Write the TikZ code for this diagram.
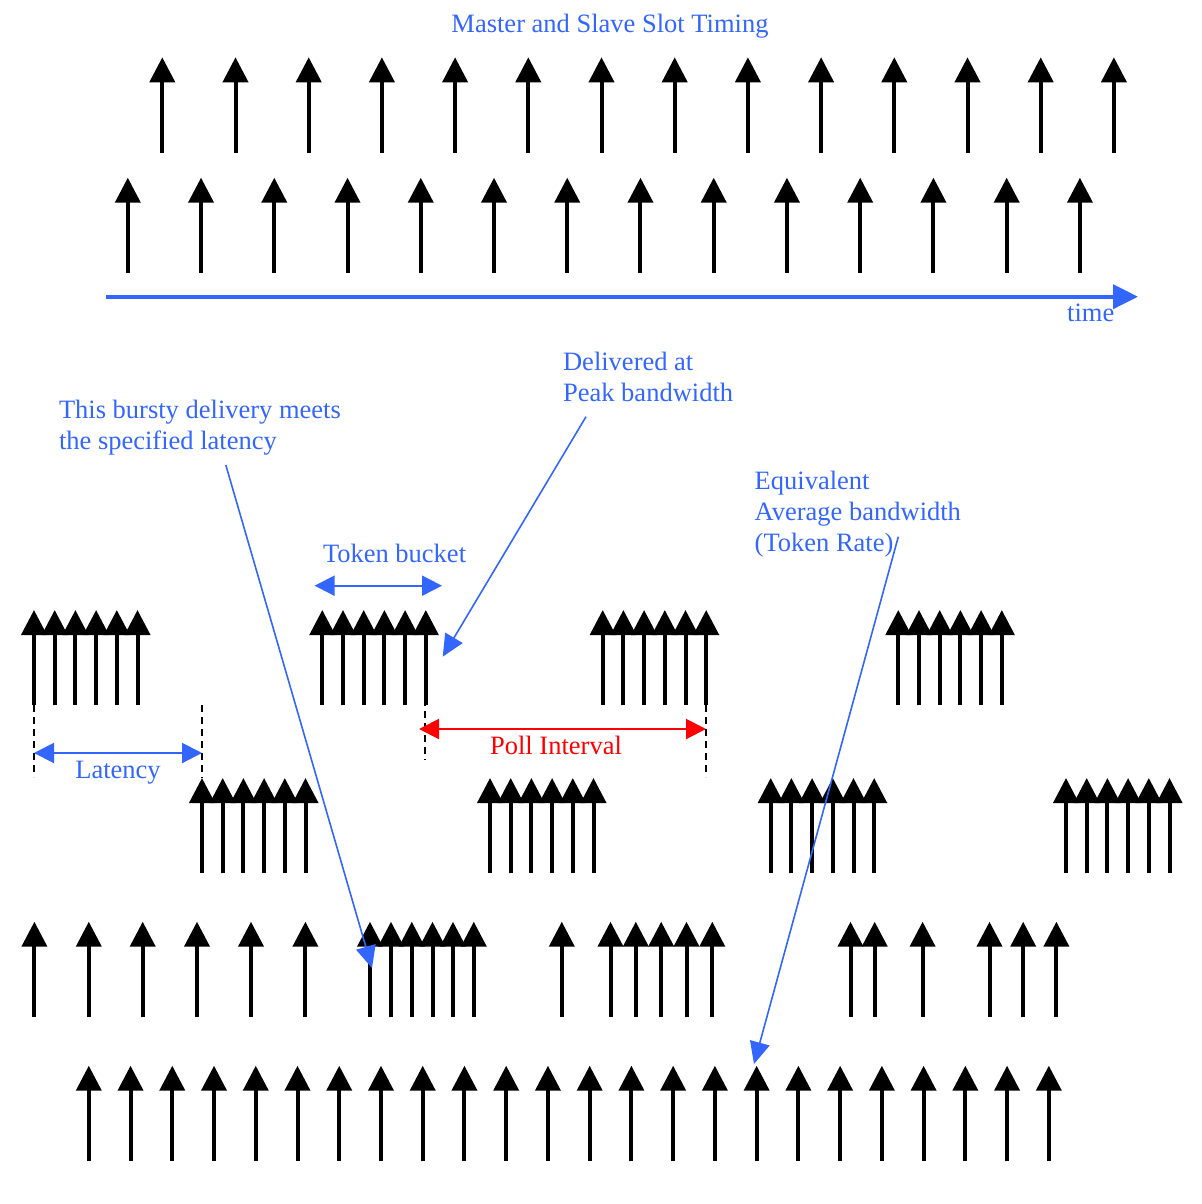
\documentclass[tikz,border=0pt]{standalone}
\usepackage{fontspec}
\setmainfont{Liberation Serif}
\newfontfamily\notefont{Liberation Serif}
\usetikzlibrary{arrows.meta}

\definecolor{noteblue}{RGB}{51,102,255}

\tikzset{
  slot/.style={line width=2pt, -{Triangle[length=12.5pt,width=12.5pt]}},
  note/.style={text=noteblue, font=\notefont\fontsize{13.25}{15.5}\selectfont, inner sep=0pt, align=left},
  pointer/.style={noteblue, line width=0.8pt, -{Triangle[length=11pt,width=10pt]}},
  span/.style={line width=1pt, {Triangle[length=10pt,width=10pt]}-{Triangle[length=10pt,width=10pt]}},
  guide/.style={black, line width=1pt, dash pattern=on 3.5pt off 2.5pt},
}

\begin{document}
\begin{tikzpicture}[x=0.5pt,y=-0.5pt]
   \useasboundingbox (0,0) rectangle (1201,1204);

   % master and slave slots
   \node[note, anchor=base] (title) at (610,33) {Master and Slave Slot Timing};
   \foreach \i in {0,...,13} {
      \draw[slot] (162.3+73.2*\i,152.7) -- (162.3+73.2*\i,57.3);
      \draw[slot] (127.8+73.24*\i,272.7) -- (127.8+73.24*\i,177.7);
   }
   \coordinate (t0) at (106,296.7);
   \coordinate (t1) at (1138,296.7);
   \draw[noteblue, line width=2pt, -{Triangle[length=12.5pt,width=12pt]}] (t0) -- (t1);
   \node[note, anchor=base west] (time) at (1066.8,321.7) {time};

   % bursts
   \foreach \gx in {34,322.3,602.7,898.3}
      \foreach \k in {0,...,5}
         \draw[slot] (\gx+20.7*\k,705) -- (\gx+20.7*\k,610);
   \foreach \gx in {202,490,770.7,1066}
      \foreach \k in {0,...,5}
         \draw[slot] (\gx+20.7*\k,873) -- (\gx+20.7*\k,778);
   \foreach \px in {34.4,88.8,142.7,197,251,305.4,370,391,411.8,432.5,453,473.8,561.8,610.5,635.8,661.2,686.5,712.3,850.5,874.7,922.6,989.5,1023.2,1056.4}
      \draw[slot] (\px,1017) -- (\px,921.7);
   \foreach \i in {0,...,23}
      \draw[slot] (88.8+41.74*\i,1161) -- (88.8+41.74*\i,1065.7);

   % latency
   \draw[guide] (34,705) -- (34,777);
   \draw[guide] (202,705) -- (202,778);
   \coordinate (lat0) at (34,753);
   \coordinate (lat1) at (202,753);
   \draw[span, noteblue] (lat0) -- (lat1);
   \node[note, anchor=base] (latency) at (118,778.3) {Latency};

   % poll interval
   \draw[guide] (424.5,687) -- (424.5,760);
   \draw[guide] (706,705) -- (706,777);
   \coordinate (poll0) at (419,729);
   \coordinate (poll1) at (706,729);
   \draw[span, red] (poll0) -- (poll1);
   \node[note, text=red, anchor=base] (poll) at (556,754) {Poll Interval};

   % token bucket
   \node[note, anchor=base west] (bucket) at (322.6,562.3) {Token bucket};
   \coordinate (tb0) at (314.6,585.7);
   \coordinate (tb1) at (442,585.7);
   \draw[span, noteblue] (tb0) -- (tb1);

   % notes (base = last line)
   \node[note, anchor=base west] (bursty) at (58.6,449.3) {This bursty delivery meets\\the specified latency};
   \coordinate (burstyFrom) at (225.8,465);
   \coordinate (burstyTo) at (372,968);
   \draw[pointer] (burstyFrom) -- (burstyTo);

   \node[note, anchor=base west] (peak) at (562.7,401) {Delivered at\\Peak bandwidth};
   \coordinate (peakFrom) at (586,416.7);
   \coordinate (peakTo) at (442.7,656.7);
   \draw[pointer] (peakFrom) -- (peakTo);

   \node[note, anchor=base west] (average) at (754.3,551.7) {Equivalent\\Average bandwidth\\(Token Rate)};
   \coordinate (avgFrom) at (898.3,536.7);
   \coordinate (avgTo) at (754,1064);
   \draw[pointer] (avgFrom) -- (avgTo);
\end{tikzpicture}
\end{document}
